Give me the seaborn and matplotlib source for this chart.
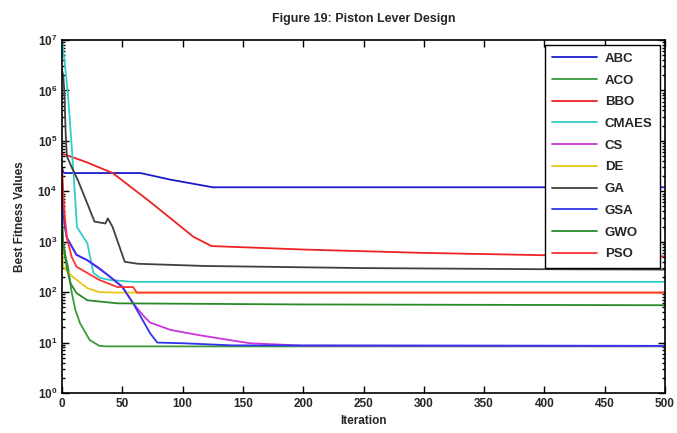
import numpy as np
import pandas as pd
import matplotlib
matplotlib.use("Agg")
import matplotlib.pyplot as plt
import seaborn as sns
from matplotlib.ticker import LogLocator, MultipleLocator, NullFormatter

# ---- data (keypoints) ----
algorithms = ["ABC", "ACO", "BBO", "CMAES", "CS", "DE", "GA", "GSA", "GWO", "PSO"]

abc_it = [0, 1, 2, 65, 90, 125, 500]
abc_val = [3.0e4, 2.4e4, 2.3e4, 2.3e4, 1.7e4, 1.2e4, 1.2e4]

aco_it = [0, 1, 3, 5, 8, 11, 15, 23, 31, 37, 500]
aco_val = [2.5e3, 9.0e2, 5.0e2, 3.2e2, 1.0e2, 45, 24, 11.2, 8.6, 8.4, 8.4]

bbo_it = [0, 4, 20, 42, 73, 109, 124, 200, 300, 400, 500]
bbo_val = [5.5e4, 5.2e4, 3.8e4, 2.3e4, 6.2e3, 1.25e3, 8.2e2, 7.0e2, 6.0e2, 5.4e2, 5.1e2]

cmaes_it = [0, 2, 5, 8, 11, 12.4, 21, 26, 32, 40, 59, 500]
cmaes_val = [1.0e7, 4.0e6, 8.0e5, 8.0e4, 6.8e3, 1.95e3, 9.3e2, 2.4e2, 1.9e2, 1.74e2, 1.6e2, 1.6e2]

cs_it = [0, 1, 2, 4, 12, 21, 31, 40, 50, 59, 67, 73, 90, 114, 139, 156, 200, 500]
cs_val = [1.5e4, 6.0e3, 2.5e3, 1.2e3, 5.5e2, 4.3e2, 3.0e2, 2.0e2, 1.3e2, 60, 35, 25, 17.8, 14, 11.2, 9.7, 8.7, 8.6]

de_it = [0, 1, 9, 21, 31, 45, 500]
de_val = [1.2e3, 3.2e2, 2.0e2, 1.2e2, 1.0e2, 98, 98]

ga_it = [0, 1, 2, 3, 4, 8, 13, 27, 36, 38, 42, 52, 63, 119, 250, 400, 500]
ga_val = [2.5e6, 2.0e6, 9.0e5, 1.5e5, 5.0e4, 3.0e4, 1.7e4, 2.5e3, 2.3e3, 2.9e3, 1.95e3, 4.0e2, 3.65e2, 3.3e2, 3.0e2, 2.85e2, 2.8e2]

gsa_it = [0, 1, 2, 4, 12, 21, 31, 40, 50, 59, 67, 73, 79, 100, 141, 500]
gsa_val = [1.0e4, 5.0e3, 2.2e3, 1.2e3, 5.5e2, 4.3e2, 2.9e2, 2.0e2, 1.26e2, 60, 27.6, 15.4, 10, 9.7, 8.8, 8.6]

gwo_it = [0, 1, 4, 7, 12, 21, 46, 200, 500]
gwo_val = [2.5e3, 9.3e2, 3.0e2, 1.5e2, 96, 69, 60, 57, 55]

pso_it = [0, 1, 2, 4, 8, 12, 31, 46, 59, 62, 500]
pso_val = [3.0e4, 1.0e4, 4.0e3, 1.2e3, 5.0e2, 3.2e2, 1.74e2, 1.26e2, 1.26e2, 98, 98]

series_it = [abc_it, aco_it, bbo_it, cmaes_it, cs_it, de_it, ga_it, gsa_it, gwo_it, pso_it]
series_val = [abc_val, aco_val, bbo_val, cmaes_val, cs_val, de_val, ga_val, gsa_val, gwo_val, pso_val]

colors = ["#1a1acc", "#3a9a3a", "#ee2222", "#33cccc", "#cc33dd",
          "#e6c619", "#404040", "#3333ee", "#2a8a2a", "#ff3333"]

frames = []
for name, it, val in zip(algorithms, series_it, series_val):
    frames.append(pd.DataFrame({"Iteration": it, "Fitness": val, "Algorithm": name}))
df = pd.concat(frames, ignore_index=True)

# ---- style ----
sns.set_style("ticks")
plt.rcParams["font.family"] = ["Liberation Sans", "DejaVu Sans"]
plt.rcParams["font.weight"] = "bold"
plt.rcParams["axes.labelweight"] = "bold"
plt.rcParams["mathtext.default"] = "regular"

fig = plt.figure(figsize=(6.77, 4.33), dpi=100)
ax = fig.add_axes([62 / 677, 1 - 393 / 433, (665 - 62) / 677, (393 - 40) / 433])

sns.lineplot(data=df, x="Iteration", y="Fitness", hue="Algorithm",
             hue_order=algorithms, palette=colors, estimator=None, sort=False,
             linewidth=1.3, ax=ax)

ax.set_yscale("log")
ax.set_xlim(0, 500)
ax.set_ylim(1, 1e7)
ax.xaxis.set_major_locator(MultipleLocator(50))
ax.yaxis.set_major_locator(LogLocator(base=10, numticks=10))
ax.yaxis.set_minor_locator(LogLocator(base=10, subs=np.arange(2, 10) * 1.0, numticks=20))
ax.yaxis.set_minor_formatter(NullFormatter())

ax.tick_params(axis="both", which="both", direction="in", top=True, right=True,
               labelsize=8.5, width=1.0, color="black")
ax.tick_params(axis="both", which="major", length=5)
ax.tick_params(axis="both", which="minor", length=2.5)
for lbl in ax.get_xticklabels() + ax.get_yticklabels():
    lbl.set_fontweight("bold")
for sp in ax.spines.values():
    sp.set_linewidth(1.2)
    sp.set_color("black")
    sp.set_visible(True)

ax.set_xlabel("Iteration", fontsize=8.5, fontweight="bold", labelpad=4)
ax.set_ylabel("Best Fitness Values", fontsize=8.5, fontweight="bold", labelpad=8)
ax.set_title("Figure 19: Piston Lever Design", fontsize=9, fontweight="bold", pad=13)

leg = ax.legend(loc="upper right", fontsize=9.5, frameon=True, fancybox=False,
                edgecolor="black", framealpha=1, borderaxespad=0.4,
                handlelength=3.4, handletextpad=0.6, labelspacing=0.72,
                borderpad=0.55)
leg.get_frame().set_linewidth(1.0)
for t in leg.get_texts():
    t.set_fontweight("bold")

fig.savefig("out.png", dpi=100)
